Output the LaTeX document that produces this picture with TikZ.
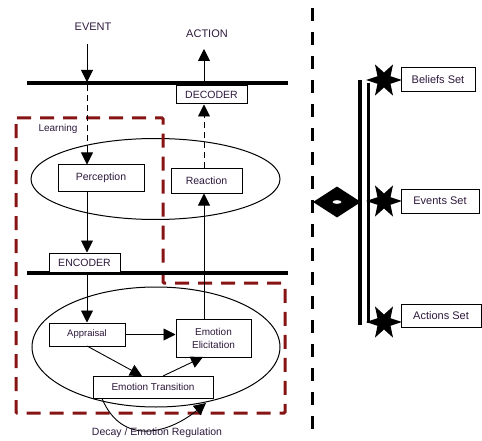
\documentclass[tikz,border=0pt]{standalone}
\usepackage{fontspec}
\setmainfont{Liberation Sans}
\usetikzlibrary{arrows.meta,shapes.geometric}
\definecolor{dred}{RGB}{135,20,20}
\definecolor{txt}{RGB}{45,25,60}
\tikzset{
  box/.style={draw,line width=1pt,fill=white,inner sep=0pt,text=txt,font=\fontsize{10.5}{12}\selectfont,align=center},
  lbl/.style={text=txt,inner sep=0pt,font=\fontsize{11}{13}\selectfont},
  tri/.style={-{Triangle[length=12pt,width=12pt]}},
  bar/.style={line width=3.5pt},
  conn/.style={line width=0.9pt},
  dsh/.style={dash pattern=on 6pt off 4pt},
  learn/.style={draw=dred,line width=3pt,dash pattern=on 14pt off 9pt,rounded corners=1pt},
  setstar/.style={star,star points=6,star point ratio=2.4,minimum size=36pt,fill=black,inner sep=0pt,rotate=30},
  setbox/.style={draw,line width=1pt,fill=white,inner sep=0pt,text=txt,font=\fontsize{11}{13}\selectfont},
}
\begin{document}
\begin{tikzpicture}[x=1pt,y=-1pt]
\useasboundingbox (0,0) rectangle (482,441);
% ellipses
\node[draw,ellipse,line width=1pt,minimum width=249pt,minimum height=81pt,inner sep=0pt] (upell) at (155.5,179) {};
\node[draw,ellipse,line width=1pt,minimum width=248pt,minimum height=120pt,inner sep=0pt] (lowell) at (156,347) {};
% learning region
\draw[learn] (16,118) -- (163,118) -- (163,283) -- (285,283) -- (285,413) -- (16,413) -- cycle;
\node[lbl,font=\fontsize{10}{12}\selectfont] (learning) at (58,129) {Learning};
% bars
\coordinate (b1l) at (27,83); \coordinate (b1r) at (288,83);
\coordinate (b2l) at (27,273); \coordinate (b2r) at (288,273);
\draw[bar] (b1l) -- (b1r);
\draw[bar] (b2l) -- (b2r);
% text nodes
\node[lbl] (event) at (93,27) {EVENT};
\node[lbl] (action) at (207,34) {ACTION};
% boxes
\node[box,minimum width=71pt,minimum height=18pt] (decoder) at (211.5,95) {DECODER};
\node[box,minimum width=86pt,minimum height=26pt] (perception) at (101,178) {Perception};
\node[box,minimum width=71pt,minimum height=24pt] (reaction) at (206.5,181) {Reaction};
\node[box,minimum width=71pt,minimum height=19pt] (encoder) at (84.5,262.5) {ENCODER};
\node[box,minimum width=76pt,minimum height=23pt,font=\fontsize{9.5}{11}\selectfont] (appraisal) at (87,334.5) {Appraisal};
\node[box,minimum width=75pt,minimum height=38pt,font=\fontsize{10}{13}\selectfont] (elicit) at (213.5,338) {Emotion\\Elicitation};
\node[box,minimum width=120pt,minimum height=22pt,font=\fontsize{10}{12}\selectfont] (trans) at (153,387) {Emotion Transition};
% connectors
\coordinate (evtop) at (87,44); \coordinate (evbar) at (87,82);
\draw[conn,tri] (evtop) -- (evbar);
\coordinate (evdash) at (87,85); \coordinate (evell) at (87,147);
\draw[conn,dsh] (evdash) -- (evell);
\draw[conn,tri] (evell) -- (perception.north -| evell);
\coordinate (acbar) at (204,82); \coordinate (actop) at (204,49);
\draw[conn,tri] (acbar) -- (actop);
\draw[conn,dsh,tri] (reaction.north -| acbar) -- (decoder.south -| acbar);
\draw[conn,tri] (perception.south -| evtop) -- (encoder.north -| evtop);
\coordinate (encbot) at (87,274.5);
\draw[conn,tri] (encbot) -- (appraisal.north -| encbot);
\draw[conn,tri] (elicit.north -| acbar) -- (reaction.south -| acbar);
\draw[conn,tri] (appraisal.east) -- (appraisal.east -| elicit.west);
\coordinate (aps) at (87,346); \coordinate (trn) at (142,376);
\draw[conn,tri] (aps) -- (trn);
\coordinate (trn2) at (163,376); \coordinate (eli2) at (203,357);
\draw[conn,tri] (trn2) -- (eli2);
\coordinate (decs) at (102,398.5); \coordinate (dece) at (206,403);
\draw[conn,tri] (decs) .. controls (122,446) and (168,434) .. (dece);
\node[lbl,font=\fontsize{10.5}{12}\selectfont] (decay) at (157,433) {Decay / Emotion Regulation};
% right part
\coordinate (vdt) at (312,8); \coordinate (vdb) at (312,433);
\draw[line width=3pt,dash pattern=on 13pt off 11pt] (vdt) -- (vdb);
\node[diamond,fill=black,minimum width=48pt,minimum height=31pt,inner sep=0pt,aspect=1.6] (dia) at (337,202) {};
\fill[white] (dia.center) ellipse (4.5pt and 1.8pt);
\coordinate (dl1t) at (360,80); \coordinate (dl1b) at (360,325);
\coordinate (dl2t) at (368,83); \coordinate (dl2b) at (368,323);
\draw[line width=3.5pt] (dl1t) -- (dl1b);
\draw[line width=3pt] (dl2t) -- (dl2b);
\node[setstar] (s1) at (384,80) {};
\node[setstar] (s2) at (384,201) {};
\node[setstar] (s3) at (384,322) {};
\node[setbox,minimum width=74pt,minimum height=24pt] (beliefs) at (438,80) {Beliefs Set};
\node[setbox,minimum width=78pt,minimum height=24pt] (events) at (440,201) {Events Set};
\node[setbox,minimum width=80pt,minimum height=23pt] (actions) at (441,315.5) {Actions Set};
\end{tikzpicture}
\end{document}
